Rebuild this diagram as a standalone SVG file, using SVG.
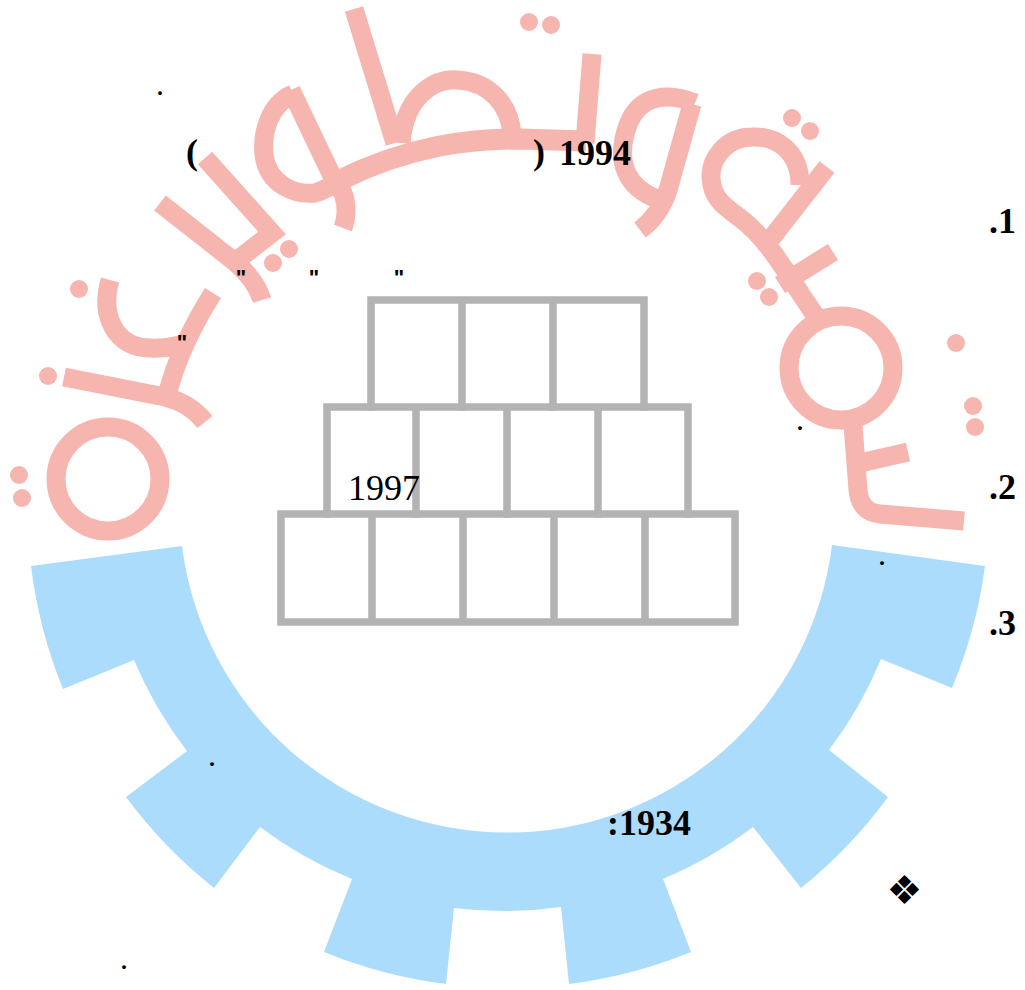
<svg xmlns="http://www.w3.org/2000/svg" width="1025" height="990" viewBox="0 0 1025 990">
<style>
.r{fill:none;stroke:#f7b5b0;stroke-width:19}
.t{stroke-width:21}
.d{fill:#f7b5b0}
.g{fill:none;stroke:#b3b3b3;stroke-width:7.5;stroke-linecap:square}
.b{font-family:"Liberation Serif",serif;font-weight:bold;font-size:36px;fill:#000}
.n{font-family:"Liberation Serif",serif;font-size:36px;fill:#000}
.p{font-family:"Liberation Serif",serif;font-size:32px;fill:#000}
.q{font-family:"Liberation Sans",sans-serif;font-weight:bold;font-size:22px;fill:#000;text-anchor:middle}
</style>
<rect width="1025" height="990" fill="#fff"/>
<g id="logo-gear">
<path fill="#abdcfc" d="M31,566 L182,546 A327.5,327.5 0 0 0 832,545 L985,566 A480,480 0 0 1 952,688 L881,659 A403,403 0 0 1 829,750 L888,797 A480,480 0 0 1 801,888 L753,827 A403,403 0 0 1 663,879 L691,952 A480,480 0 0 1 569,984 L561,907 A403,403 0 0 1 454,908 L446,984 A480,480 0 0 1 324,952 L352,879 A403,403 0 0 1 260,827 L214,888 A480,480 0 0 1 126,797 L187,751 A403,403 0 0 1 134,660 L63,689 A480,480 0 0 1 31,566 Z"/>
</g>
<g id="logo-script">
<circle class="r" cx="108" cy="479" r="52"/>
<path class="r" d="M64,377 L165,397 Q190,403 205,422"/>
<path class="r" d="M213,293 Q180,345 167,395"/>
<path class="r" d="M110,280 C100,315 115,348 150,348 Q165,349 180,345"/>
<path class="r" d="M160,203 L235,262 Q256,280 262,300"/>
<path class="r" d="M205,158 L272,233 L240,258"/>
<path class="r" d="M354,9 L395,143"/>
<path class="r" d="M401,143 C405,95 435,78 458,80 C490,82 510,105 512,135"/>
<path class="r" d="M291,90 L333,178"/>
<path class="r" d="M293,94 C268,105 262,135 264,155 C268,185 295,195 315,193 Q325,190 345,178"/>
<path class="r t" d="M338,181 C410,145 470,139 520,139 L586,141"/>
<path class="r" d="M335,180 Q347,195 346,212 Q346,220 343,228"/>
<path class="r" d="M592,54 L585,143"/>
<path class="r" d="M695,103 C670,93 640,93 628,125 C615,160 625,188 660,200"/>
<path class="r" d="M692,104 L668,190 Q660,215 640,230"/>
<path class="r" d="M827,167 L770,240"/>
<path class="r" d="M800,185 C800,150 775,136 752,137 C725,137 710,160 711,178 C712,197 722,205 740,218 C770,240 790,280 815,315"/>
<path class="r" d="M833,252 L780,285"/>
<circle class="r" cx="841" cy="368" r="52"/>
<path class="r" d="M853,425 L858,490 Q860,512 880,514 L964,521"/>
<path class="r" d="M908,452 L860,463"/>
<g class="d">
<circle cx="529" cy="22" r="9"/><circle cx="551" cy="25" r="9"/>
<circle cx="792" cy="118" r="9"/><circle cx="810" cy="131" r="9"/>
<circle cx="757" cy="281" r="9"/><circle cx="769" cy="297" r="9"/>
<circle cx="956" cy="343" r="9"/><circle cx="973" cy="406" r="9"/><circle cx="975" cy="427" r="9"/>
<circle cx="289" cy="249" r="9"/><circle cx="273" cy="263" r="9"/>
<circle cx="79" cy="289" r="9"/><circle cx="48" cy="376" r="9"/>
<circle cx="19" cy="475" r="9"/><circle cx="22" cy="498" r="9"/>
</g>
</g>
<g id="pyramid" class="g">
<path d="M371,300 H644 V407 M371,300 V407 M462,300 V407 M553,300 V407"/>
<path d="M327,407 H688 V514 M327,407 V514 M416,407 V514 M507,407 V514 M598,407 V514"/>
<path d="M281,514 H735 V622 H281 Z M372,514 V622 M463,514 V622 M554,514 V622 M645,514 V622"/>
</g>
<g id="labels">
<text class="b" x="186" y="164">(</text>
<text class="b" x="533" y="164">)<tspan x="559" y="165">1994</tspan></text>
<text class="b" x="989" y="233">.1</text>
<text class="b" x="989" y="499">.2</text>
<text class="b" x="989" y="635">.3</text>
<text class="n" x="348" y="500">1997</text>
<text class="b" x="607" y="835">:1934</text>
<text x="904.5" y="904" font-family="DejaVu Sans,sans-serif" font-size="40" text-anchor="middle" fill="#000">❖</text>
<text class="p" x="156" y="95">.</text>
<text class="p" x="796" y="430">.</text>
<text class="p" x="878" y="565">.</text>
<text class="p" x="208" y="766">.</text>
<text class="p" x="120" y="969">.</text>
<text class="q" x="241" y="285">"</text>
<text class="q" x="314" y="285">"</text>
<text class="q" x="399" y="285">"</text>
<text class="q" x="182" y="350">"</text>
</g>
</svg>
